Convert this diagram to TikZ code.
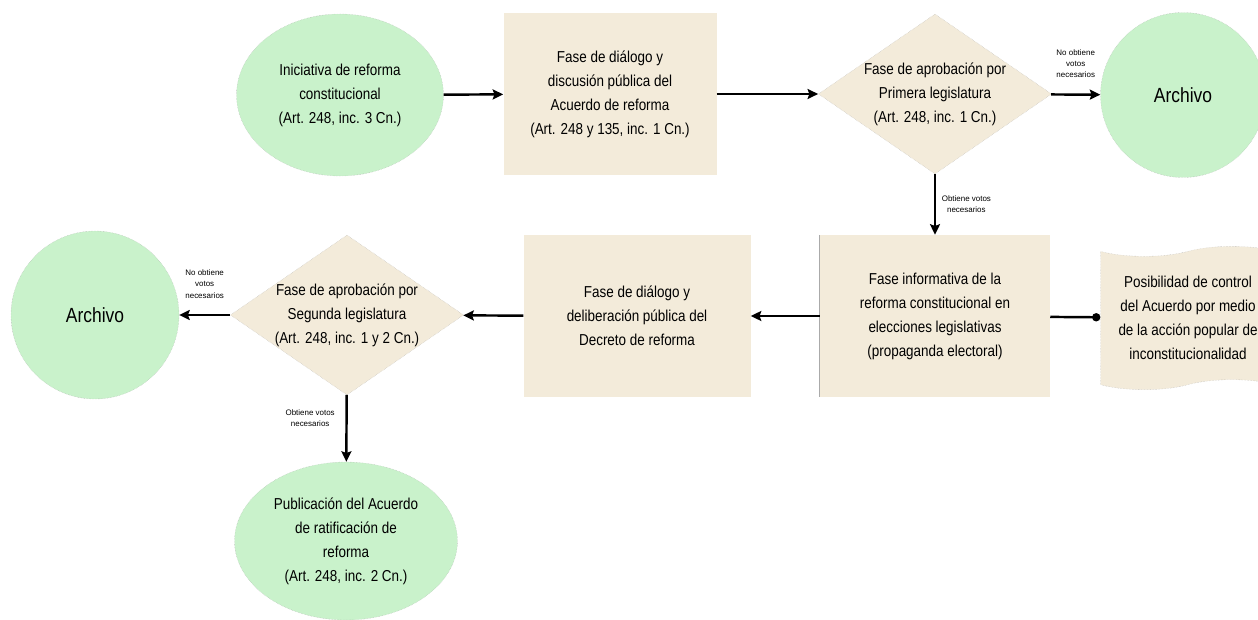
\documentclass[tikz,border=0pt]{standalone}
\usepackage{fontspec}
\setmainfont{Liberation Sans}[FakeStretch=0.85]
\newfontfamily\tagfont{Liberation Sans}
\usepackage{xcolor}
\usepackage{tikz}
\usetikzlibrary{shapes.geometric, shapes.symbols, arrows.meta, positioning, calc}
\definecolor{mintGreen}{RGB}{201,242,203}
\definecolor{paperBeige}{RGB}{243,235,218}
\definecolor{edgeGray}{RGB}{170,170,170}

\begin{document}
\begin{tikzpicture}[
  x=0.03cm, y=-0.03cm,
  font=\fontsize{13.5}{20.5}\selectfont,
  terminal/.style={ellipse, fill=mintGreen, draw=edgeGray, densely dotted, line width=0.3pt, align=center, inner sep=0pt},
  archive/.style={circle, fill=mintGreen, draw=edgeGray, densely dotted, line width=0.3pt, minimum size=4.95cm, font=\fontsize{17.5}{20}\selectfont},
  phase/.style={rectangle, fill=paperBeige, minimum height=4.86cm, align=center},
  decision/.style={diamond, shape aspect=1.44, fill=paperBeige, draw=edgeGray, densely dotted, line width=0.3pt, minimum width=7cm, minimum height=4.8cm, inner sep=-4pt, align=center},
  control/.style={tape, tape bend top=in and out, tape bend bottom=in and out, tape bend height=0.3cm, fill=paperBeige, draw=edgeGray, densely dotted, line width=0.3pt, minimum width=5.25cm, minimum height=4.3cm, align=center},
  arrow/.style={line width=2.1pt, solid, -{Stealth[length=9pt, width=8.5pt, inset=1.5pt]}},
  votes/.style={font=\tagfont\fontsize{6.8}{9.5}\selectfont, align=center}
]
\useasboundingbox (0,0) rectangle (1258,620);

% Nodes
\node (start) [terminal, minimum width=6.21cm, minimum height=4.86cm] at (340,95) {Iniciativa de reforma\\constitucional\\(Art. 248, inc. 3 Cn.)};
\node (dialogue1) [phase, minimum width=6.39cm] at (610,94) {Fase de diálogo y\\discusión pública del\\Acuerdo de reforma\\(Art. 248 y 135, inc. 1 Cn.)};
\node (first_vote) [decision] at (935,94) {Fase de aprobación por\\Primera legislatura\\(Art. 248, inc. 1 Cn.)};
\node (archive1) [archive] at (1183,95) {Archivo};
\node (inform) [phase, minimum width=6.9cm] at (935,316) {Fase informativa de la\\reforma constitucional en\\elecciones legislativas\\(propaganda electoral)};
\node (control) [control] at (1188,318) {Posibilidad de control\\del Acuerdo por medio\\de la acción popular de\\inconstitucionalidad};
\node (dialogue2) [phase, minimum width=6.81cm] at (637,316) {Fase de diálogo y\\deliberación pública del\\Decreto de reforma};
\node (second_vote) [decision] at (347,315) {Fase de aprobación por\\Segunda legislatura\\(Art. 248, inc. 1 y 2 Cn.)};
\node (archive2) [archive, minimum size=5.04cm] at (95,315) {Archivo};
\node (publish) [terminal, minimum width=6.69cm, minimum height=4.74cm] at (346,541) {Publicación del Acuerdo\\de ratificación de\\reforma\\(Art. 248, inc. 2 Cn.)};

\draw [edgeGray, line width=1pt] (inform.north west) -- (inform.south west);

% Arrows
\draw [arrow] (start) -- (dialogue1);
\draw [arrow] (dialogue1) -- (first_vote);
\draw [arrow] (first_vote) -- node[votes, above=0.35cm] {No obtiene\\votos\\necesarios} (archive1);
\draw [arrow] (first_vote) -- node[votes, right=0.05cm] {Obtiene votos\\necesarios} (inform);
\draw [line width=2.1pt, -{Circle[length=7pt]}] (inform) -- (control);
\draw [arrow] (inform) -- (dialogue2);
\draw [arrow] (dialogue2) -- (second_vote);
\draw [arrow] (second_vote) -- node[votes, above=0.35cm] {No obtiene\\votos\\necesarios} (archive2);
\draw [arrow] (second_vote) -- node[votes, left=0.2cm, pos=0.35] {Obtiene votos\\necesarios} (publish);

\end{tikzpicture}
\end{document}
